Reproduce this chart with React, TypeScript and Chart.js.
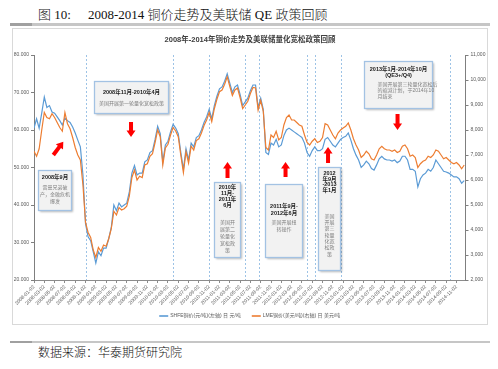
import React, { useEffect, useRef } from "react";
import { Chart, registerables } from "chart.js";
Chart.register(...registerables);

// ---- data: semi-monthly closes (1st & mid of each month), 2008-01 .. 2014-12
const shfe2008 = [60500, 63000, 60500, 64500, 68800, 66000, 66500, 64800, 64500, 63500, 62500, 61300, 63200, 62500, 62000, 60800, 59200, 57300, 55500, 48000, 35000, 31500, 30500, 27500];
const shfe2009 = [24500, 27500, 26500, 28500, 28500, 31000, 34000, 40000, 38500, 40500, 39500, 40000, 40500, 43500, 48500, 50500, 48000, 48500, 48500, 51500, 52000, 54000, 54500, 57500];
const shfe2010 = [61000, 59000, 51500, 56000, 57000, 59500, 61500, 60500, 59000, 54000, 49500, 55000, 52000, 56500, 55500, 58000, 58500, 60000, 62000, 63500, 65500, 63000, 66500, 69000];
const shfe2011 = [71000, 71500, 73000, 75000, 72500, 70000, 71500, 72000, 69500, 66500, 67500, 68500, 70500, 72000, 72000, 66000, 68500, 65500, 54000, 53500, 56500, 56000, 57500, 55500];
const shfe2012 = [56000, 58500, 60000, 60500, 60000, 59500, 59000, 58500, 58000, 56500, 54000, 53000, 54500, 55500, 54500, 54500, 55000, 57500, 58000, 57000, 56000, 55500, 56500, 57500];
const shfe2013 = [58000, 58300, 59200, 57300, 55000, 53300, 52000, 50000, 50700, 51700, 51000, 49700, 49300, 50700, 52300, 53000, 52300, 52000, 52000, 51700, 52000, 51300, 51700, 53000];
const shfe2014 = [53000, 52000, 49500, 49500, 49000, 44800, 47000, 48000, 48500, 49500, 49000, 50000, 52000, 51000, 50000, 49000, 48800, 48500, 48000, 47500, 47500, 47000, 45800, 46500];

const lme2008 = [7150, 6950, 7250, 8000, 8700, 8500, 8450, 8650, 8500, 8300, 8100, 7950, 8700, 8250, 8050, 7700, 7300, 7000, 6800, 5800, 4300, 3900, 3700, 3200];
const lme2009 = [2900, 3300, 3150, 3400, 3350, 3650, 4050, 4750, 4600, 4900, 4800, 4850, 4950, 5350, 6100, 6400, 6000, 6150, 6100, 6600, 6650, 6950, 7050, 7500];
const lme2010 = [8000, 7730, 6600, 7280, 7430, 7800, 8100, 7960, 7730, 6980, 6300, 7130, 6680, 7350, 7200, 7580, 7650, 7880, 8180, 8400, 8700, 8330, 8850, 9230];
const lme2011 = [9530, 9600, 9830, 10130, 9750, 9380, 9600, 9680, 9300, 8860, 9000, 9150, 9460, 9700, 9680, 8800, 9180, 8750, 7300, 7200, 7800, 7700, 7950, 7600];
const lme2012 = [7700, 8200, 8500, 8600, 8400, 8400, 8300, 8200, 8150, 7800, 7500, 7400, 7550, 7650, 7500, 7550, 7700, 8250, 8200, 8000, 7800, 7650, 7880, 8000];
const lme2013 = [8080, 8150, 8280, 8000, 7650, 7400, 7200, 6900, 7000, 7150, 7050, 6850, 6800, 7000, 7250, 7350, 7250, 7200, 7200, 7150, 7200, 7100, 7150, 7350];
const lme2014 = [7400, 7250, 6950, 7000, 6900, 6500, 6650, 6750, 6800, 6950, 6900, 7000, 7200, 7150, 7000, 6850, 6900, 6800, 6700, 6650, 6700, 6600, 6450, 6600];

const SHFE = [...shfe2008, ...shfe2009, ...shfe2010, ...shfe2011, ...shfe2012, ...shfe2013, ...shfe2014];
const LME = [...lme2008, ...lme2009, ...lme2010, ...lme2011, ...lme2012, ...lme2013, ...lme2014];

const seriesNames = ["SHFE铜价(元/吨)(左轴) 日 元/吨", "LME铜价(美元/吨)(右轴) 日 美元/吨"];
const chartTitle = "2008年-2014年铜价走势及美联储量化宽松政策回顾";

// QE policy boundaries, in months since 2008-01-02
const qeLines = [10, 27, 34, 41, 43.7, 53, 54.6, 59.5, 80.7];

// annotation boxes in data coords (months, left-axis value)
const notes = [
  { m0: 0.78, m1: 7.18, v0: 49333, v1: 38667, title: ["2008年9月"], ty: 6.5, ts: 6, body: ["雷曼兄弟破", "产，金融危机", "爆发"], by: 17, bs: 7, left: 0 },
  { m0: 11.65, m1: 26.0, v0: 73067, v1: 64533, title: ["2008年11月-2010年4月"], ty: 11, ts: 6, body: ["美国开展第一轮量化宽松政策"], by: 22, bs: 6, left: 0 },
  { m0: 34.94, m1: 39.98, v0: 46133, v1: 26133, title: ["2010年", "11月-", "2011年", "6月"], ty: 5, ts: 6, body: ["美国开", "展第二", "轮量化", "宽松政", "策"], by: 40, bs: 7, left: 0 },
  { m0: 44.84, m1: 52.02, v0: 45600, v1: 26133, title: ["2011年9月-", "2012年6月"], ty: 22, ts: 7, body: ["美国开展扭", "转操作"], by: 38, bs: 7, left: 0 },
  { m0: 55.12, m1: 59.39, v0: 50133, v1: 22667, title: ["2012", "年9月", "-2013", "年1月"], ty: 6, ts: 5.6, body: ["美国", "开展", "第三", "轮量", "化宽", "松政", "策"], by: 49, bs: 6.3, left: 0 },
  { m0: 64.05, m1: 77.25, v0: 78400, v1: 65867, title: ["2013年1月-2014年10月", "(QE3+/Q4)"], ty: 7.5, ts: 6.5, body: ["美国开展第三轮量化宽松后", "的缩减计划，于2014年10", "月结束"], by: 23, bs: 6, left: 13 },
];

// red arrows: tail -> tip (months, left-axis value)
const arrows = [
  { m0: 3.75, v0: 53333, m1: 5.69, v1: 56880 },
  { m0: 18.83, v0: 62133, m1: 18.83, v1: 58133 },
  { m0: 37.56, v0: 47200, m1: 37.56, v1: 51467 },
  { m0: 48.82, v0: 47467, m1: 48.82, v1: 51467 },
  { m0: 57.07, v0: 51200, m1: 57.07, v1: 55467 },
  { m0: 70.56, v0: 64267, m1: 70.56, v1: 60000 },
];

const FAMILY = '"Liberation Sans", "Noto Sans CJK SC", sans-serif';
const BLUE = "#5b9bd5";
const ORANGE = "#ed7d31";

function monthLabel(v: number) {
  const idx = Math.round(v);
  const y = 2008 + Math.floor(idx / 12);
  const m = (idx % 12) + 1;
  return `${y}-${String(m).padStart(2, "0")}-02`;
}

const overlay = {
  id: "overlay",
  beforeDatasetsDraw(chart: any) {
    const { ctx, chartArea, scales } = chart;
    ctx.save();
    ctx.strokeStyle = "#9dc3e6";
    ctx.lineWidth = 1;
    ctx.setLineDash([2, 2]);
    for (const m of qeLines) {
      const x = Math.round(scales.x.getPixelForValue(m)) + 0.5;
      ctx.beginPath();
      ctx.moveTo(x, chartArea.top);
      ctx.lineTo(x, chartArea.bottom);
      ctx.stroke();
    }
    ctx.restore();
  },
  afterDatasetsDraw(chart: any) {
    const { ctx, scales } = chart;
    const sx = scales.x, sy = scales.y;
    ctx.save();
    ctx.fillStyle = "#ff0000";
    for (const a of arrows) {
      const tx = sx.getPixelForValue(a.m0), ty = sy.getPixelForValue(a.v0);
      const px = sx.getPixelForValue(a.m1), py = sy.getPixelForValue(a.v1);
      const len = Math.hypot(px - tx, py - ty);
      const dx = (px - tx) / len, dy = (py - ty) / len;
      const nx = -dy, ny = dx;
      const s = 2, h = 4.5, hl = 6.5;
      const bx = px - dx * hl, by = py - dy * hl;
      ctx.beginPath();
      ctx.moveTo(tx + nx * s, ty + ny * s);
      ctx.lineTo(bx + nx * s, by + ny * s);
      ctx.lineTo(bx + nx * h, by + ny * h);
      ctx.lineTo(px, py);
      ctx.lineTo(bx - nx * h, by - ny * h);
      ctx.lineTo(bx - nx * s, by - ny * s);
      ctx.lineTo(tx - nx * s, ty - ny * s);
      ctx.closePath();
      ctx.fill();
    }
    ctx.restore();
    for (const n of notes) {
      const x0 = Math.round(sx.getPixelForValue(n.m0)) + 0.5;
      const x1 = Math.round(sx.getPixelForValue(n.m1)) + 0.5;
      const y0 = Math.round(sy.getPixelForValue(n.v0)) + 0.5;
      const y1 = Math.round(sy.getPixelForValue(n.v1)) + 0.5;
      ctx.save();
      ctx.shadowColor = "rgba(0,0,0,0.28)";
      ctx.shadowBlur = 2;
      ctx.shadowOffsetX = 1;
      ctx.shadowOffsetY = 1;
      ctx.fillStyle = "#f2f2f2";
      ctx.fillRect(x0, y0, x1 - x0, y1 - y0);
      ctx.restore();
      ctx.save();
      ctx.strokeStyle = "#a3c2e3";
      ctx.lineWidth = 1.3;
      ctx.strokeRect(x0, y0, x1 - x0, y1 - y0);
      const cx = (x0 + x1) / 2;
      ctx.textBaseline = "middle";
      ctx.textAlign = "center";
      ctx.fillStyle = "#1a1a1a";
      ctx.font = `bold 5.5px ${FAMILY}`;
      n.title.forEach((t, i) => ctx.fillText(t, cx, y0 + n.ty + i * n.ts));
      ctx.fillStyle = "#808080";
      ctx.font = `5px ${FAMILY}`;
      if (n.left) ctx.textAlign = "left";
      n.body.forEach((t, i) => ctx.fillText(t, n.left ? x0 + n.left : cx, y0 + n.by + i * n.bs));
      ctx.restore();
    }
  },
  afterDraw(chart: any) {
    const { ctx, chartArea, width } = chart;
    ctx.save();
    ctx.fillStyle = "#404040";
    ctx.font = `bold 7.5px ${FAMILY}`;
    ctx.textAlign = "center";
    ctx.textBaseline = "middle";
    ctx.fillText(chartTitle, width / 2, 11);
    ctx.font = `5px ${FAMILY}`;
    ctx.textAlign = "left";
    const w1 = ctx.measureText(seriesNames[0]).width;
    const w2 = ctx.measureText(seriesNames[1]).width;
    const lineW = 9, gap = 2, sep = 11;
    const total = lineW + gap + w1 + sep + lineW + gap + w2;
    let x = (chartArea.left + chartArea.right) / 2 - total / 2;
    const y = 287;
    const cols = [BLUE, ORANGE];
    [w1, w2].forEach((w, i) => {
      ctx.strokeStyle = cols[i];
      ctx.lineWidth = 1.6;
      ctx.beginPath();
      ctx.moveTo(x, y);
      ctx.lineTo(x + lineW, y);
      ctx.stroke();
      x += lineW + gap;
      ctx.fillStyle = "#595959";
      ctx.fillText(seriesNames[i], x, y);
      x += w + sep;
    });
    ctx.restore();
  },
};

export default function App() {
  const ref = useRef<HTMLCanvasElement>(null);
  useEffect(() => {
    const tickFont = { family: FAMILY, size: 5 };
    const chart = new Chart(ref.current!, {
      type: "line",
      data: {
        datasets: [
          {
            label: seriesNames[1],
            data: LME.map((v, i) => ({ x: i / 2, y: v })),
            borderColor: ORANGE,
            borderWidth: 1.2,
            pointRadius: 0,
            yAxisID: "y1",
          },
          {
            label: seriesNames[0],
            data: SHFE.map((v, i) => ({ x: i / 2, y: v })),
            borderColor: BLUE,
            borderWidth: 1.2,
            pointRadius: 0,
            yAxisID: "y",
          },
        ],
      },
      options: {
        responsive: false,
        animation: false,
        devicePixelRatio: 1,
        layout: { padding: { top: 26, left: 0, right: 0, bottom: 0 } },
        plugins: { legend: { display: false }, tooltip: { enabled: false }, title: { display: false } },
        scales: {
          x: {
            type: "linear",
            min: 0,
            max: 83.75,
            afterFit: (s: any) => { s.height = 44; },
            border: { display: true, color: "#8c8c8c", width: 1 },
            grid: { display: true, drawOnChartArea: false, drawTicks: true, tickLength: 3, color: "#8c8c8c" },
            ticks: {
              stepSize: 2,
              includeBounds: false,
              autoSkip: false,
              minRotation: 45,
              maxRotation: 45,
              padding: 1,
              color: "#595959",
              font: tickFont,
              callback: (v: any) => monthLabel(Number(v)),
            },
          },
          y: {
            position: "left",
            min: 20000,
            max: 80000,
            afterFit: (s: any) => { s.width = 21; },
            border: { display: true, color: "#7f7f7f", width: 1 },
            grid: { display: true, drawOnChartArea: false, drawTicks: true, tickLength: 3, color: "#7f7f7f" },
            ticks: {
              stepSize: 10000,
              padding: 2,
              color: "#595959",
              font: tickFont,
              callback: (v: any) => `${Number(v) / 1000}.000`,
            },
          },
          y1: {
            position: "right",
            min: 2000,
            max: 11000,
            afterFit: (s: any) => { s.width = 21.5; },
            border: { display: true, color: "#7f7f7f", width: 1 },
            grid: { display: true, drawOnChartArea: false, drawTicks: true, tickLength: 3, color: "#7f7f7f" },
            ticks: {
              stepSize: 1000,
              padding: 2,
              color: "#595959",
              font: tickFont,
              callback: (v: any) => Number(v).toLocaleString("en-US"),
            },
          },
        },
      } as any,
      plugins: [overlay],
    });
    return () => chart.destroy();
  }, []);

  const serif = '"Liberation Serif", "Noto Sans CJK SC", serif';
  const textStyle: React.CSSProperties = { position: "absolute", fontFamily: serif, fontWeight: 300, color: "#111", whiteSpace: "nowrap" };
  return (
    <div style={{ position: "absolute", left: 0, top: 0, width: 498, height: 369, background: "#fff", overflow: "hidden" }}>
      <div style={{ ...textStyle, left: 38, top: 7, fontSize: 13, lineHeight: "16px" }}>图 10:</div>
      <div style={{ ...textStyle, left: 88, top: 7, fontSize: 13, lineHeight: "16px" }}>2008-2014 铜价走势及美联储 QE 政策回顾</div>
      <div style={{ position: "absolute", left: 10, top: 23, width: 480, height: 2.5, background: "#c6c6c6" }} />
      <div style={{ position: "absolute", left: 10, top: 23, width: 22, height: 2.5, background: "#a0a0a0" }} />
      <div style={{ position: "absolute", left: 12, top: 28, width: 476, height: 297, border: "1px solid #d9d9d9", boxSizing: "border-box" }} />
      <canvas ref={ref} width={474} height={295} style={{ position: "absolute", left: 13, top: 29, width: 474, height: 295 }} />
      <div style={{ position: "absolute", left: 10, top: 340.5, width: 480, height: 2, background: "#c6c6c6" }} />
      <div style={{ position: "absolute", left: 10, top: 340.5, width: 22, height: 2, background: "#a0a0a0" }} />
      <div style={{ ...textStyle, left: 38, top: 345, fontSize: 12, lineHeight: "16px" }}>数据来源：华泰期货研究院</div>
    </div>
  );
}
